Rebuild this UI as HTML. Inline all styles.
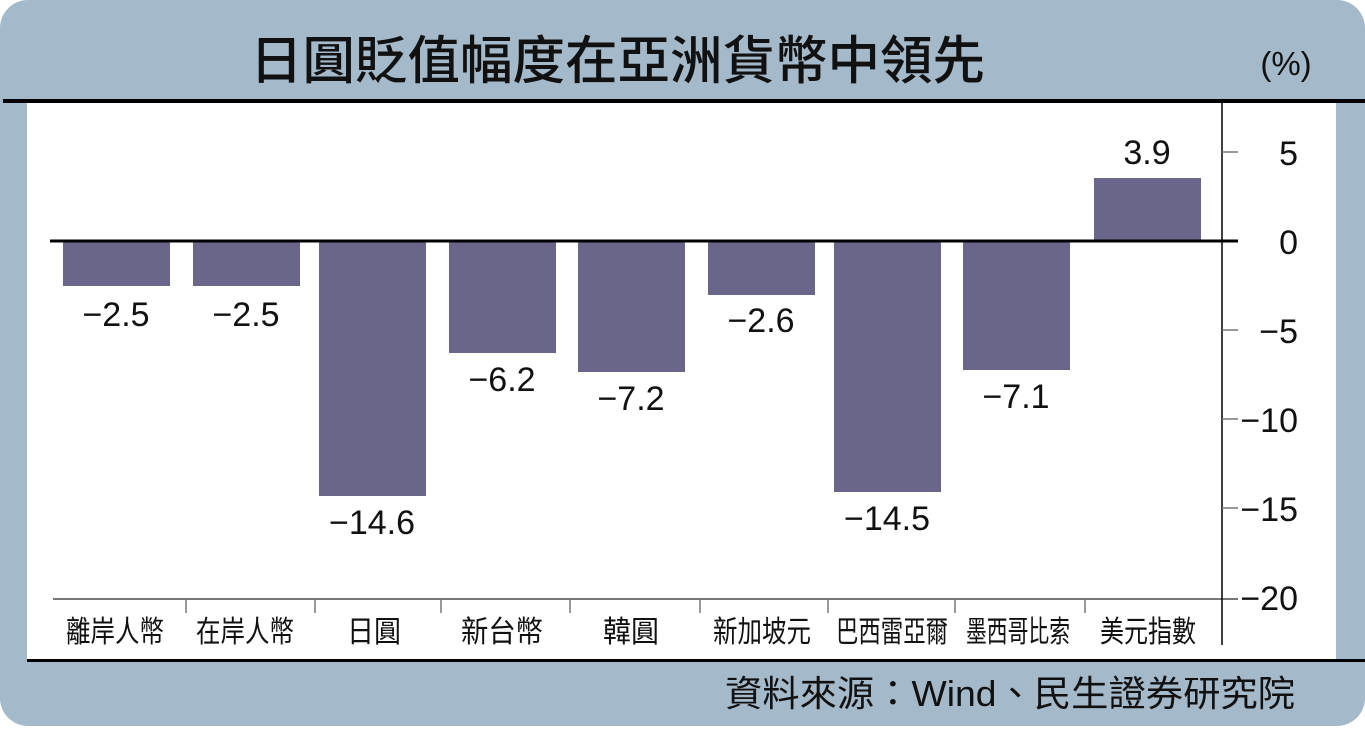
<!DOCTYPE html>
<html><head><meta charset="utf-8"><style>
body{margin:0;width:1365px;height:726px;overflow:hidden;background:#fff}
</style></head><body>
<svg width="1365" height="726" xmlns="http://www.w3.org/2000/svg" font-family="Liberation Sans, Noto Sans CJK TC, sans-serif">
<rect x="0" y="0" width="1365" height="726" rx="28" fill="#a4b9c9"/>
<rect x="27" y="101" width="1309" height="558" fill="#fff"/>
<rect x="3" y="99" width="1362" height="4" fill="#000"/>
<rect x="27" y="659" width="1338" height="3" fill="#000"/>
<text x="250" y="79" font-size="52" font-weight="500" textLength="735" lengthAdjust="spacingAndGlyphs" fill="#111" font-family="Noto Sans CJK TC, sans-serif">日圓貶值幅度在亞洲貨幣中領先</text>
<text x="1286" y="75" font-size="33" text-anchor="middle" fill="#111">(%)</text>
<g fill="#69668a">
<rect x="63" y="241" width="107" height="45"/>
<rect x="193" y="241" width="107" height="45"/>
<rect x="319" y="241" width="107" height="255"/>
<rect x="449" y="241" width="107" height="112"/>
<rect x="578" y="241" width="107" height="131"/>
<rect x="708" y="241" width="107" height="54"/>
<rect x="834" y="241" width="107" height="251"/>
<rect x="963" y="241" width="107" height="129"/>
<rect x="1094" y="178" width="107" height="63"/>
</g>
<line x1="53" y1="599" x2="1238" y2="599" stroke="#777" stroke-width="2"/>
<line x1="50" y1="241" x2="1238" y2="241" stroke="#000" stroke-width="3"/>
<line x1="1222" y1="103" x2="1222" y2="645" stroke="#000" stroke-width="1.5"/>
<g stroke="#777" stroke-width="1.5">
<line x1="186" y1="599" x2="186" y2="613"/><line x1="315" y1="599" x2="315" y2="613"/>
<line x1="441" y1="599" x2="441" y2="613"/><line x1="570" y1="599" x2="570" y2="613"/>
<line x1="700" y1="599" x2="700" y2="613"/><line x1="828" y1="599" x2="828" y2="613"/>
<line x1="955" y1="599" x2="955" y2="613"/><line x1="1085" y1="599" x2="1085" y2="613"/>
<line x1="1222" y1="152" x2="1238" y2="152"/><line x1="1222" y1="330" x2="1238" y2="330"/>
<line x1="1222" y1="419" x2="1238" y2="419"/><line x1="1222" y1="508" x2="1238" y2="508"/>
</g>
<g font-size="34" fill="#111" text-anchor="end">
<text x="1298" y="165">5</text><text x="1298" y="254">0</text>
<text x="1298" y="343">−5</text><text x="1298" y="432">−10</text>
<text x="1298" y="521">−15</text><text x="1298" y="610">−20</text>
</g>
<g font-size="34" fill="#111" text-anchor="middle">
<text x="116" y="326">−2.5</text><text x="246" y="326">−2.5</text>
<text x="372" y="534">−14.6</text><text x="502" y="391">−6.2</text>
<text x="631" y="410">−7.2</text><text x="761" y="332">−2.6</text>
<text x="887" y="530">−14.5</text><text x="1016" y="408">−7.1</text>
<text x="1147" y="164">3.9</text>
</g>
<g font-size="30" fill="#111" font-family="Noto Sans CJK TC, sans-serif">
<text x="66" y="642" textLength="98" lengthAdjust="spacingAndGlyphs">離岸人幣</text>
<text x="196" y="642" textLength="98" lengthAdjust="spacingAndGlyphs">在岸人幣</text>
<text x="347" y="642" textLength="54" lengthAdjust="spacingAndGlyphs">日圓</text>
<text x="461" y="642" textLength="82" lengthAdjust="spacingAndGlyphs">新台幣</text>
<text x="603" y="642" textLength="56" lengthAdjust="spacingAndGlyphs">韓圓</text>
<text x="713" y="642" textLength="98" lengthAdjust="spacingAndGlyphs">新加坡元</text>
<text x="836" y="642" textLength="112" lengthAdjust="spacingAndGlyphs">巴西雷亞爾</text>
<text x="966" y="642" textLength="104" lengthAdjust="spacingAndGlyphs">墨西哥比索</text>
<text x="1100" y="642" textLength="96" lengthAdjust="spacingAndGlyphs">美元指數</text>
</g>
<text x="725" y="706" font-size="36" textLength="570" lengthAdjust="spacingAndGlyphs" fill="#111" font-family="Liberation Sans, Noto Sans CJK TC, sans-serif">資料來源：Wind、民生證券研究院</text>
</svg>
</body></html>
